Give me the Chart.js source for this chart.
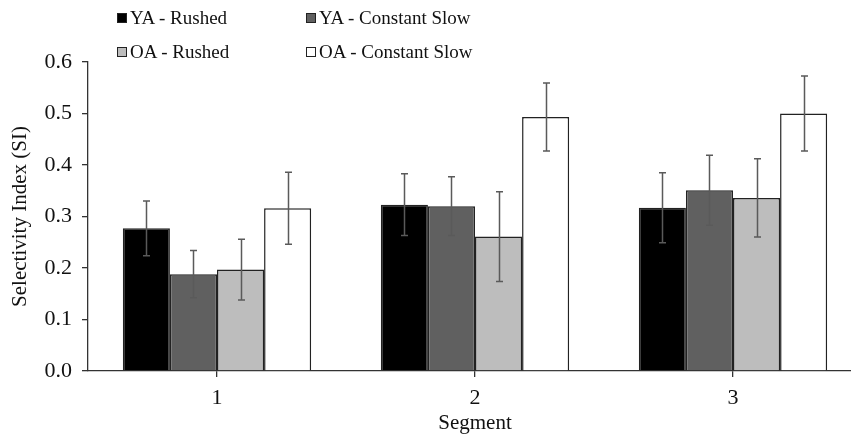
<!DOCTYPE html>
<html>
<head>
<meta charset="utf-8">
<script src="https://cdn.jsdelivr.net/npm/chart.js@4"></script>
<style>
  html, body { margin: 0; padding: 0; background: #fff; overflow: hidden; }
  #wrap { position: relative; width: 851px; height: 434px; overflow: hidden; }
  #box { position: absolute; left: 0; top: 0; width: 870px; height: 434px; }
  .lg { position: absolute; font-family: "Liberation Serif", serif; font-size: 19px; color: #111; white-space: nowrap; line-height: 20px; }
  .lg span { display: inline-block; width: 10px; height: 10px; border: 1px solid #222; margin-right: 3px; vertical-align: 1px; box-sizing: border-box; }
</style>
</head>
<body>
<div id="wrap">
  <div id="box"><canvas id="myChart" width="870" height="434"></canvas></div>
</div>
<script>
// data
var segments = ["1", "2", "3"];
var series_names = ["YA - Rushed", "YA - Constant Slow", "OA - Rushed", "OA - Constant Slow"];
var ya_rushed = [0.277, 0.323, 0.317];
var ya_slow   = [0.188, 0.320, 0.351];
var oa_rushed = [0.197, 0.261, 0.336];
var oa_slow   = [0.316, 0.493, 0.500];
var ya_rushed_err = [0.053, 0.060, 0.068];
var ya_slow_err   = [0.046, 0.057, 0.068];
var oa_rushed_err = [0.059, 0.087, 0.076];
var oa_slow_err   = [0.070, 0.066, 0.073];
var y_ticks = [0, 0.1, 0.2, 0.3, 0.4, 0.5, 0.6];

var fills = ["#000000", "#606060", "#bdbdbd", "#ffffff"];
var values = [ya_rushed, ya_slow, oa_rushed, oa_slow];
var errs = [ya_rushed_err, ya_slow_err, oa_rushed_err, oa_slow_err];

// legend, two rows by two columns
var legend_pos = [[117, 8], [306, 8], [117, 42], [306, 42]];
var wrap = document.getElementById("wrap");
for (var i = 0; i < series_names.length; i++) {
  var d = document.createElement("div");
  d.className = "lg";
  d.style.left = legend_pos[i][0] + "px";
  d.style.top = legend_pos[i][1] + "px";
  d.innerHTML = '<span style="background:' + fills[i] + '"></span>' + series_names[i];
  wrap.appendChild(d);
}

var errorBars = {
  id: "errorBars",
  afterDatasetsDraw: function(chart) {
    var ctx = chart.ctx;
    var ys = chart.scales.y;
    ctx.save();
    ctx.strokeStyle = "#5a5a5a";
    ctx.lineWidth = 1.5;
    chart.data.datasets.forEach(function(ds, di) {
      var meta = chart.getDatasetMeta(di);
      meta.data.forEach(function(bar, j) {
        var v = ds.data[j], e = errs[di][j];
        var x = Math.round(bar.x) + 0.5;
        var top = ys.getPixelForValue(v + e);
        var bot = ys.getPixelForValue(v - e);
        ctx.beginPath();
        ctx.moveTo(x, top); ctx.lineTo(x, bot);
        ctx.moveTo(x - 3.5, top); ctx.lineTo(x + 3.5, top);
        ctx.moveTo(x - 3.5, bot); ctx.lineTo(x + 3.5, bot);
        ctx.stroke();
      });
    });
    ctx.restore();
  }
};

var font = { family: "Liberation Serif", size: 22 };

var chart = new Chart(document.getElementById("myChart"), {
  type: "bar",
  data: {
    labels: segments,
    datasets: values.map(function(v, i) {
      return {
        label: series_names[i],
        data: v,
        backgroundColor: fills[i],
        borderColor: "#222",
        borderWidth: 1.5,
        categoryPercentage: 0.73,
        barPercentage: 1.0
      };
    })
  },
  options: {
    responsive: false,
    animation: false,
    layout: { padding: { top: 62, left: 0, right: 8, bottom: 0 } },
    plugins: { legend: { display: false }, tooltip: { enabled: false } },
    scales: {
      x: {
        grid: { display: true, drawOnChartArea: false, offset: false, color: "#333", tickLength: 6, lineWidth: 1.3 },
        border: { color: "#333", width: 1.3 },
        ticks: { font: font, color: "#111", padding: 8 },
        title: { display: true, text: "Segment", font: { family: "Liberation Serif", size: 21, lineHeight: 1 }, color: "#111", padding: { top: 0, bottom: 0 } },
        afterFit: function(s) { s.height = 63; }
      },
      y: {
        min: 0, max: 0.6,
        afterBuildTicks: function(s) { s.ticks = y_ticks.map(function(v) { return { value: v }; }); },
        grid: { display: true, drawOnChartArea: false, color: "#333", tickLength: 6, lineWidth: 1.3 },
        border: { color: "#333", width: 1.3 },
        ticks: { font: font, color: "#111", padding: 10, callback: function(v) { return Number(v).toFixed(1); } },
        title: { display: true, text: "Selectivity Index (SI)", font: { family: "Liberation Serif", size: 21, lineHeight: 1 }, color: "#111", padding: { top: 10, bottom: 0 } },
        afterFit: function(s) { s.width = 88; }
      }
    }
  },
  plugins: [errorBars]
});
</script>
</body>
</html>
